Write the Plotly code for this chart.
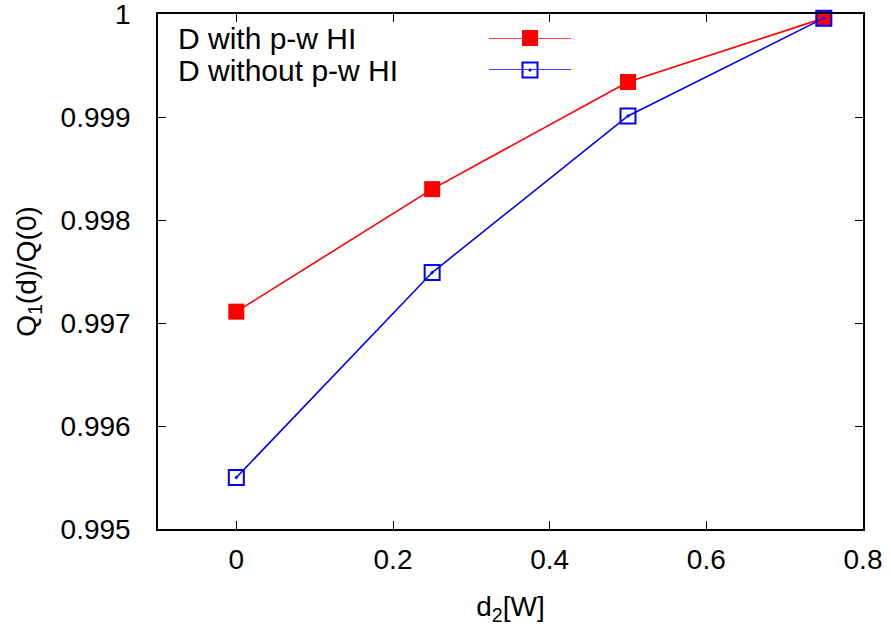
import plotly.graph_objects as go

x_vals = [0.0, 0.25, 0.5, 0.75]
with_hi = [0.99711, 0.99830, 0.99934, 0.99996]
without_hi = [0.99550, 0.99749, 0.99901, 0.99996]
names = ["D with p-w HI", "D without p-w HI"]
x_ticks = [0, 0.2, 0.4, 0.6, 0.8]
x_tick_text = ["0", "0.2", "0.4", "0.6", "0.8"]
y_ticks = [0.995, 0.996, 0.997, 0.998, 0.999, 1.0]
y_tick_text = ["0.995", "0.996", "0.997", "0.998", "0.999", "1"]

FONT = "Liberation Sans, Arial, sans-serif"
FS = 28
FS_LEG = 30
fig = go.Figure()
fig.add_trace(go.Scatter(x=x_vals, y=with_hi, mode="lines+markers", name=names[0],
                         line=dict(color="#ff0000", width=1.6), cliponaxis=False,
                         marker=dict(symbol="square", size=16, color="#ff0000"),
                         showlegend=False))
fig.add_trace(go.Scatter(x=x_vals, y=without_hi, mode="lines+markers", name=names[1],
                         line=dict(color="#0000ff", width=1.6), cliponaxis=False,
                         marker=dict(symbol="square-open-dot", size=15, color="#0000ff",
                                     line=dict(width=2, color="#0000ff")),
                         showlegend=False))

# legend samples on an overlay axis
fig.add_trace(go.Scatter(x=[0, 0.5, 1], y=[1, 1, 1], mode="lines", xaxis="x2", yaxis="y2",
                         line=dict(color="#ff0000", width=1.6), cliponaxis=False,
                         showlegend=False, hoverinfo="skip"))
fig.add_trace(go.Scatter(x=[0.5], y=[1], mode="markers", xaxis="x2", yaxis="y2", cliponaxis=False,
                         marker=dict(symbol="square", size=16, color="#ff0000"),
                         showlegend=False, hoverinfo="skip"))
fig.add_trace(go.Scatter(x=[0, 0.5, 1], y=[0, 0, 0], mode="lines", xaxis="x2", yaxis="y2",
                         line=dict(color="#0000ff", width=1.6), cliponaxis=False,
                         showlegend=False, hoverinfo="skip"))
fig.add_trace(go.Scatter(x=[0.5], y=[0], mode="markers", xaxis="x2", yaxis="y2", cliponaxis=False,
                         marker=dict(symbol="square-open-dot", size=15, color="#0000ff",
                                     line=dict(width=2, color="#0000ff")),
                         showlegend=False, hoverinfo="skip"))

L, R, T, B = 158, 28, 14, 97
W, H = 891, 626
pw, ph = W - L - R, H - T - B
def px_x(p):
    return (p - L) / pw
def px_y(p):
    return 1 - (p - T) / ph

fig.update_layout(
    width=W, height=H,
    margin=dict(l=L, r=R, t=T, b=B, autoexpand=False),
    paper_bgcolor="white", plot_bgcolor="white",
    font=dict(family=FONT, size=FS, color="black"),
    xaxis=dict(range=[-0.1, 0.8000001], tickvals=x_ticks, ticktext=x_tick_text,
               ticks="inside", ticklen=8, tickwidth=1.2, tickcolor="black",
               showline=True, linecolor="black", linewidth=1.5, mirror="ticks",
               showgrid=False, zeroline=False, ticklabelstandoff=5, automargin=False,
               ticklabeloverflow="allow", tickfont=dict(size=FS),
               title=dict(text="d<sub>2</sub>[W]", standoff=22,
                          font=dict(size=FS, family=FONT))),
    yaxis=dict(range=[0.995, 1.0000001], tickvals=y_ticks, ticktext=y_tick_text,
               ticks="inside", ticklen=8, tickwidth=1.2, tickcolor="black",
               showline=True, linecolor="black", linewidth=1.5, mirror="ticks",
               showgrid=False, zeroline=False, ticklabelstandoff=20, automargin=False,
               ticklabeloverflow="allow", tickfont=dict(size=FS),
               title=dict(text="Q<sub>1</sub>(d)/Q(0)", standoff=16,
                          font=dict(size=FS, family=FONT))),
    xaxis2=dict(domain=[px_x(489), px_x(571)], range=[0, 1], visible=False, anchor="y2"),
    yaxis2=dict(domain=[px_y(70), px_y(38)], range=[0, 1], visible=False, anchor="x2"),
    showlegend=False,
)
fig.add_annotation(x=px_x(176), y=px_y(38), xref="paper", yref="paper", text=names[0],
                   showarrow=False, xanchor="left", yanchor="middle", font=dict(size=FS_LEG))
fig.add_annotation(x=px_x(176), y=px_y(70), xref="paper", yref="paper", text=names[1],
                   showarrow=False, xanchor="left", yanchor="middle", font=dict(size=FS_LEG))

fig.write_html("out.html", config={"displayModeBar": False},
               post_script="document.body.style.margin='0';document.body.style.overflow='hidden';")
